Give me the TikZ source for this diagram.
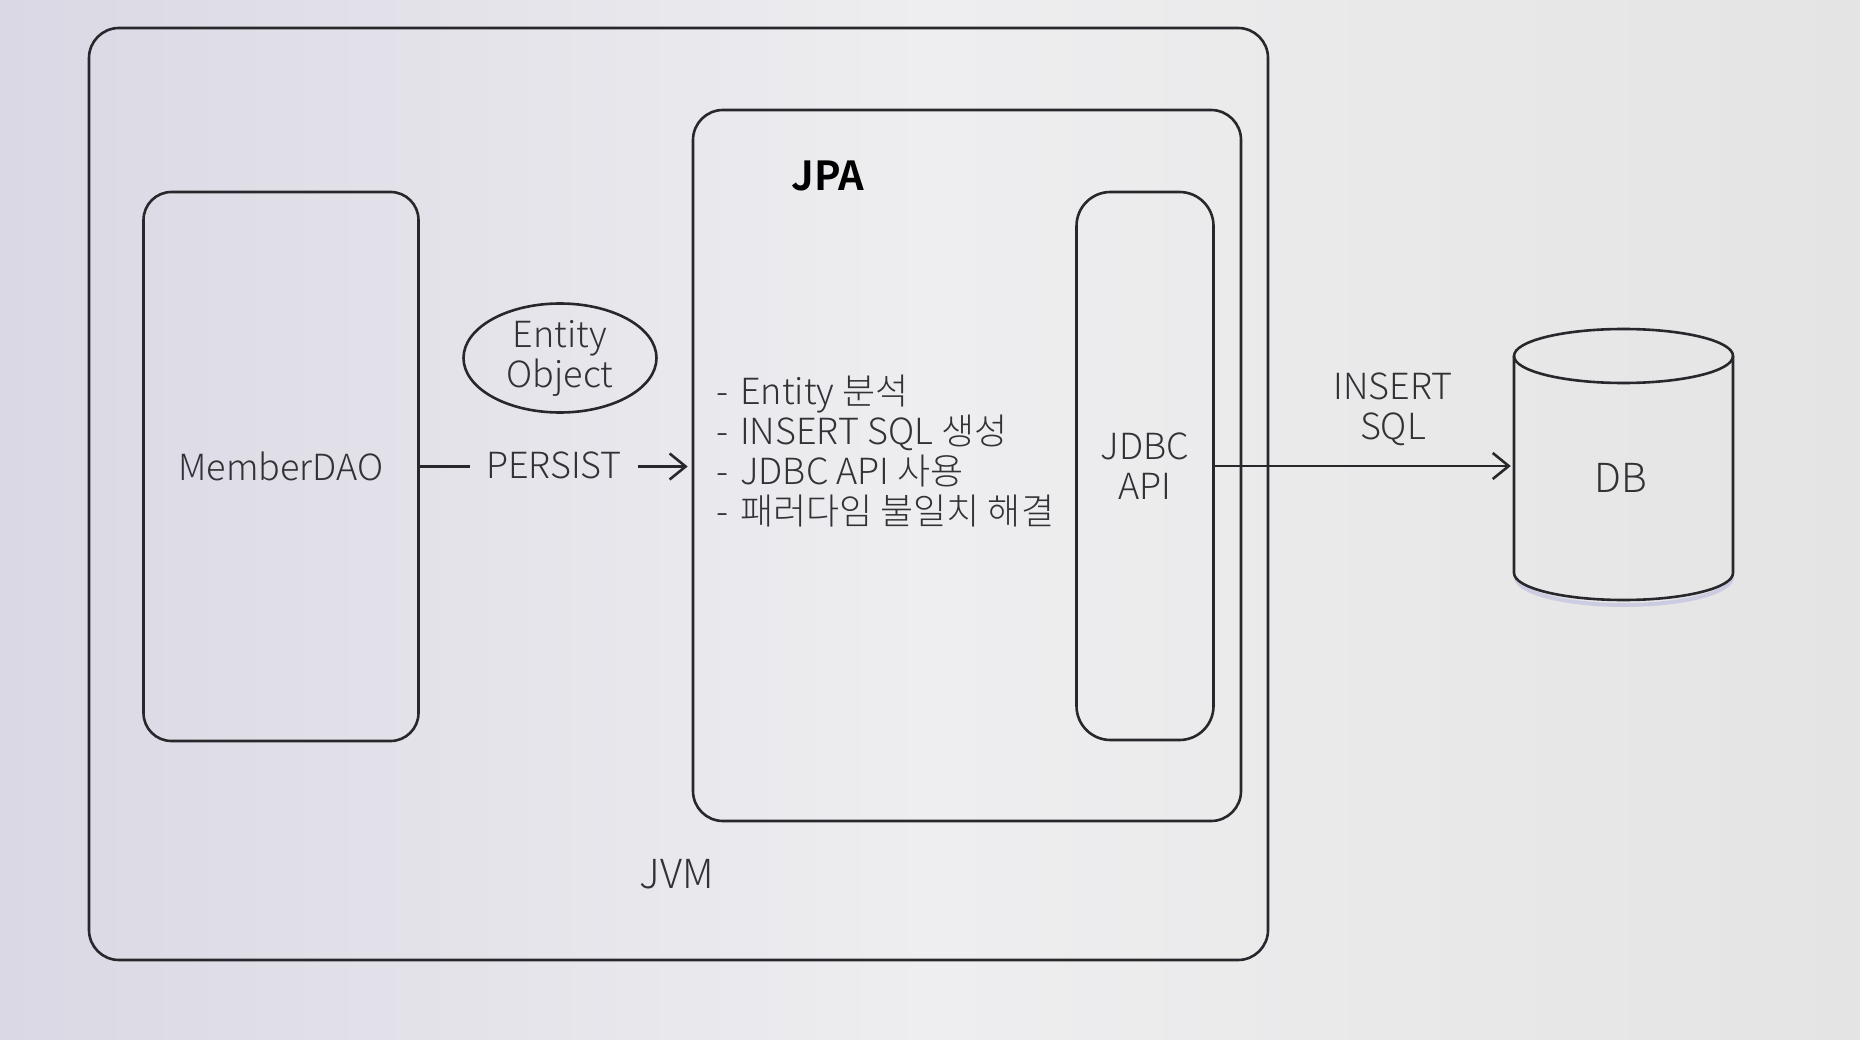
\documentclass[tikz,border=0pt]{standalone}
\usepackage{fontspec}
\setmainfont{Noto Sans CJK KR}[UprightFont=* Light, BoldFont=* Bold]
\usetikzlibrary{arrows.meta,shapes.geometric}
\definecolor{bgL}{RGB}{218,216,228}
\definecolor{bgM}{RGB}{238,238,240}
\definecolor{bgR}{RGB}{228,228,228}
\definecolor{ink}{RGB}{40,40,44}
\definecolor{txt}{RGB}{50,50,54}
\begin{document}
\begin{tikzpicture}[x=1pt,y=-1pt,
  rbox/.style={draw=ink, line width=2.6pt, rounded corners=#1},
  lbl/.style={text=txt, font=\fontsize{36}{40}\selectfont, align=center},
  conn/.style={draw=ink, line width=2.6pt},
  tip/.style={-{Straight Barb[length=16pt,width=26pt,line width=2.6pt]}}
]
\shade[left color=bgL, right color=bgR, middle color=bgM] (0,0) rectangle (1860,1040);
\useasboundingbox (0,0) rectangle (1860,1040);

% JVM
\node[rbox=30pt, minimum width=1179pt, minimum height=932pt] (jvm) at (678.5,494) {};
\node[lbl, font=\fontsize{40}{44}\selectfont] (jvmlbl) at (677,874) {JVM};

% MemberDAO
\node[rbox=28pt, lbl, minimum width=275pt, minimum height=549pt] (dao) at (281,466.5) {MemberDAO};

% Entity Object
\node[ellipse, draw=ink, line width=2.6pt, lbl, minimum width=193pt, minimum height=109pt, inner sep=0pt] (ent) at (560,358) {Entity\\Object};

% JPA
\node[rbox=30pt, minimum width=548pt, minimum height=711pt] (jpa) at (967,465.5) {};
\node[text=black, font=\bfseries\fontsize{40}{46}\selectfont] (jpalbl) at (828,176) {JPA};

% bullets
\node[lbl, anchor=west, align=left, inner sep=0pt] (list) at (716,451) {-\hspace{12pt}Entity 분석\\-\hspace{12pt}INSERT SQL 생성\\-\hspace{12pt}JDBC API 사용\\-\hspace{12pt}패러다임 불일치 해결};

% JDBC API
\node[rbox=34pt, lbl, minimum width=137pt, minimum height=548pt] (jdbc) at (1145,466) {JDBC\\API};

% DB
\node[minimum width=219pt, minimum height=272pt] (db) at (1623.5,464) {};
\node[lbl, font=\fontsize{40}{44}\selectfont] (dblbl) at (1621,478) {DB};
\draw[draw=black!45!blue!30, line width=4pt, opacity=0.5] (1516,577) arc[start angle=180,end angle=360,x radius=108pt,y radius=28pt];
\draw[conn] (1514,356) -- (1514,573) arc[start angle=180,end angle=360,x radius=109.5pt,y radius=27pt] -- (1733,356);
\draw[conn] (1623.5,356) ellipse[x radius=109.5pt, y radius=27pt];

% PERSIST
\node[lbl, inner xsep=16pt] (persist) at (554,465) {PERSIST};
\draw[conn] (dao.east) -- (dao.east -| persist.west);
\draw[conn, tip, shorten >=4pt] (persist.east |- dao.east) -- (dao.east -| jpa.west);

% INSERT SQL
\node[lbl] (ins) at (1393,409) {INSERT\\SQL};
\draw[conn, tip, shorten >=3pt] (jdbc.east) -- (jdbc.east -| db.west);
\end{tikzpicture}
\end{document}
